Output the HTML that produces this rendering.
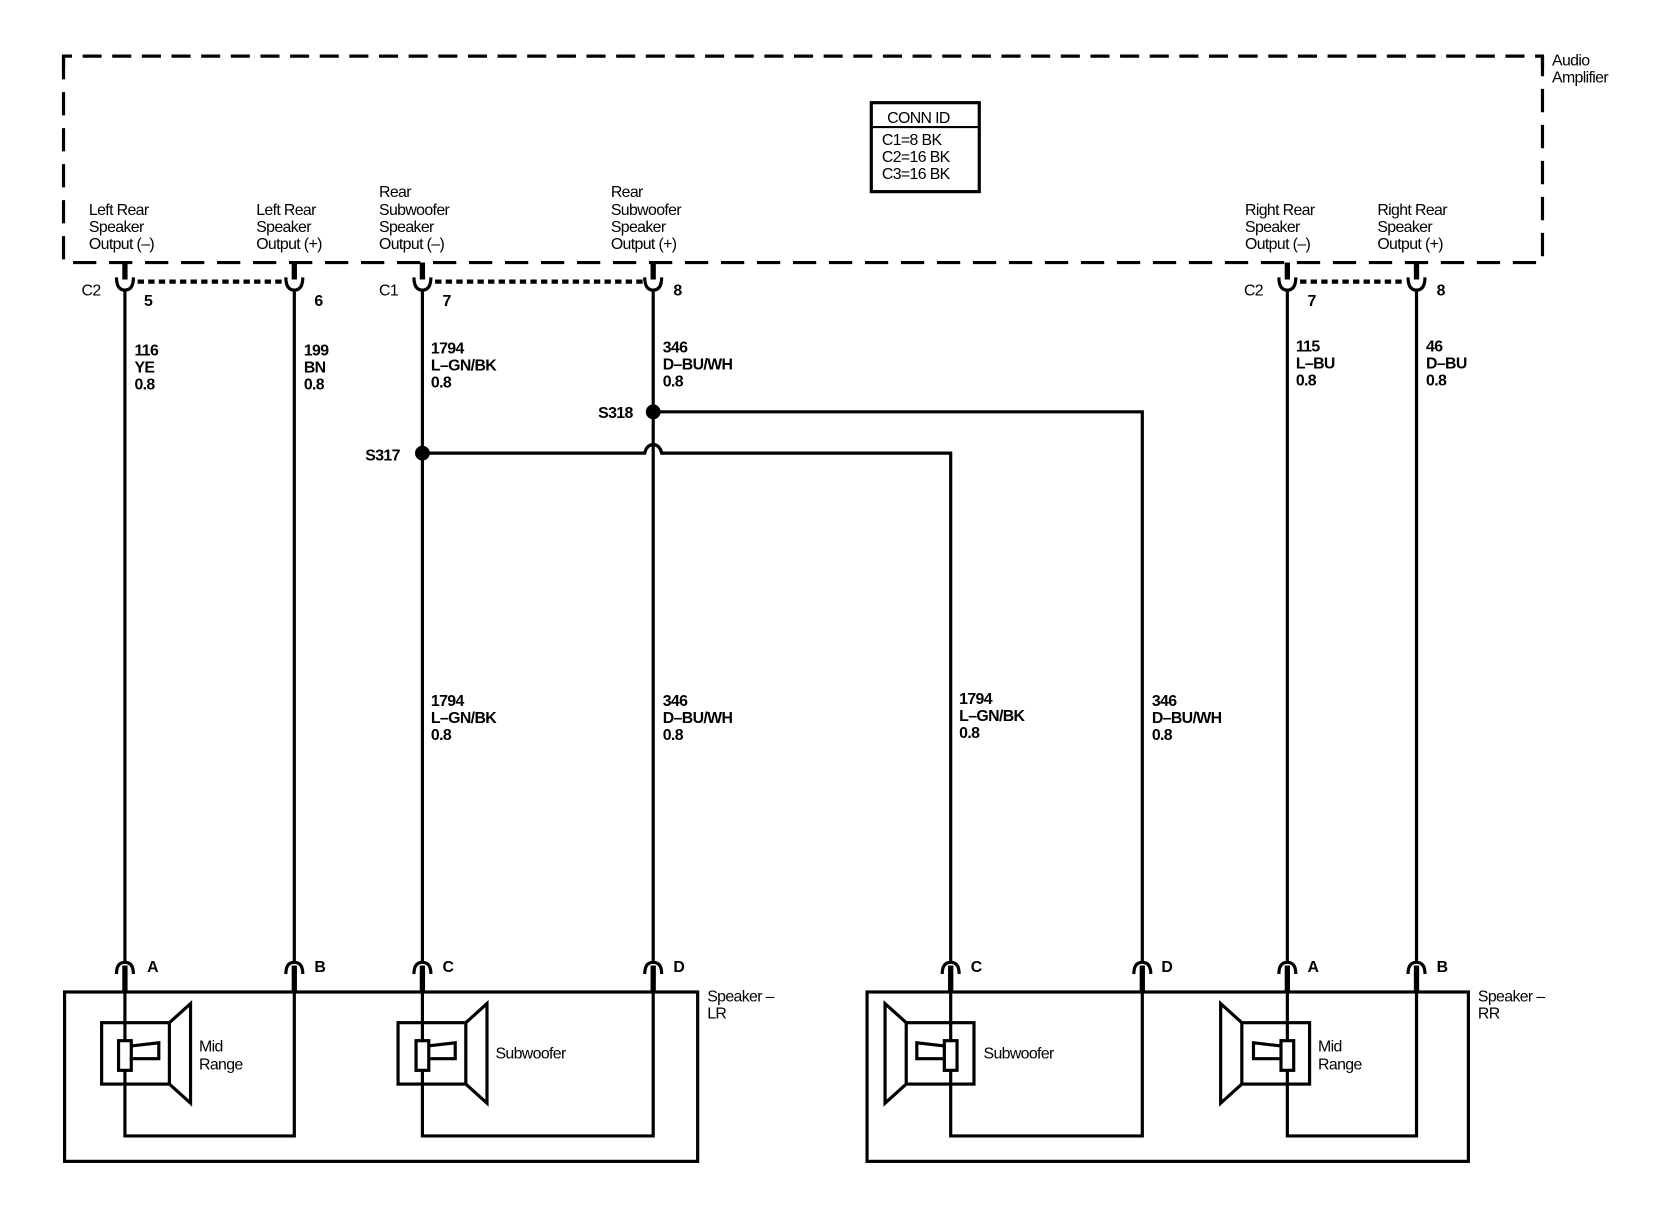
<!DOCTYPE html>
<html><head><meta charset="utf-8"><style>
html,body{margin:0;padding:0;background:#fff;}
svg{display:block;}
text{font-family:"Liberation Sans",sans-serif;font-size:15px;fill:#000;letter-spacing:-0.6px;}
.b{font-weight:bold;}
</style></head><body>
<svg width="1660" height="1216" viewBox="0 0 1568 1148.6" xmlns="http://www.w3.org/2000/svg">
<g fill="none" stroke="#000">
<!-- dashed amplifier box -->
<path d="M60,63 V53 H1457 V63" stroke-width="3" stroke-dasharray="18,10"/>
<path d="M60,53 V248 H1457 V53" stroke-width="3" stroke-dasharray="22,12"/>
<!-- conn id -->
<rect x="823" y="97" width="102" height="84" stroke-width="3"/>
<line x1="823" y1="120" x2="925" y2="120" stroke-width="2"/>
</g>
<text x="838" y="116">CONN ID</text>
<text x="833" y="137">C1=8 BK</text>
<text x="833" y="153">C2=16 BK</text>
<text x="833" y="169">C3=16 BK</text>
<text x="1466" y="62">Audio</text>
<text x="1466" y="78">Amplifier</text>

<text x="84" y="203">Left Rear</text><text x="84" y="219">Speaker</text><text x="84" y="235">Output (–)</text>
<text x="242" y="203">Left Rear</text><text x="242" y="219">Speaker</text><text x="242" y="235">Output (+)</text>
<text x="358" y="186">Rear</text><text x="358" y="203">Subwoofer</text><text x="358" y="219">Speaker</text><text x="358" y="235">Output (–)</text>
<text x="577" y="186">Rear</text><text x="577" y="203">Subwoofer</text><text x="577" y="219">Speaker</text><text x="577" y="235">Output (+)</text>
<text x="1176" y="203">Right Rear</text><text x="1176" y="219">Speaker</text><text x="1176" y="235">Output (–)</text>
<text x="1301" y="203">Right Rear</text><text x="1301" y="219">Speaker</text><text x="1301" y="235">Output (+)</text>

<g fill="none" stroke="#000">
<!-- top connectors -->
<g stroke-width="5">
<line x1="118" y1="248" x2="118" y2="264"/><line x1="278" y1="248" x2="278" y2="264"/>
<line x1="399" y1="248" x2="399" y2="264"/><line x1="617" y1="248" x2="617" y2="264"/>
<line x1="1216" y1="248" x2="1216" y2="264"/><line x1="1338" y1="248" x2="1338" y2="264"/>
</g>
<g stroke-width="3">
<path d="M110,262 Q110,274 118,274 Q126,274 126,262"/>
<path d="M270,262 Q270,274 278,274 Q286,274 286,262"/>
<path d="M391,262 Q391,274 399,274 Q407,274 407,262"/>
<path d="M609,262 Q609,274 617,274 Q625,274 625,262"/>
<path d="M1208,262 Q1208,274 1216,274 Q1224,274 1224,262"/>
<path d="M1330,262 Q1330,274 1338,274 Q1346,274 1346,262"/>
</g>
<g stroke-width="4" stroke-dasharray="6,4">
<line x1="130" y1="266" x2="268" y2="266"/>
<line x1="411" y1="266" x2="607" y2="266"/>
<line x1="1228" y1="266" x2="1328" y2="266"/>
</g>
<!-- wires -->
<g stroke-width="3">
<line x1="118" y1="274" x2="118" y2="909"/>
<line x1="278" y1="274" x2="278" y2="909"/>
<line x1="399" y1="274" x2="399" y2="909"/>
<line x1="617" y1="274" x2="617" y2="909"/>
<line x1="1216" y1="274" x2="1216" y2="909"/>
<line x1="1338" y1="274" x2="1338" y2="909"/>
<path d="M617,389 H1079 V909"/>
<path d="M399,428 H609 Q611,420 617,420 Q623,420 625,428 H898 V909"/>
<!-- bottom connectors -->
<path d="M110,920 Q110,909 118,909 Q126,909 126,920"/>
<path d="M270,920 Q270,909 278,909 Q286,909 286,920"/>
<path d="M391,920 Q391,909 399,909 Q407,909 407,920"/>
<path d="M609,920 Q609,909 617,909 Q625,909 625,920"/>
<path d="M890,920 Q890,909 898,909 Q906,909 906,920"/>
<path d="M1071,920 Q1071,909 1079,909 Q1087,909 1087,920"/>
<path d="M1208,920 Q1208,909 1216,909 Q1224,909 1224,920"/>
<path d="M1330,920 Q1330,909 1338,909 Q1346,909 1346,920"/>
</g>
<g stroke-width="5">
<line x1="118" y1="912" x2="118" y2="936"/><line x1="278" y1="912" x2="278" y2="936"/>
<line x1="399" y1="912" x2="399" y2="936"/><line x1="617" y1="912" x2="617" y2="936"/>
<line x1="898" y1="912" x2="898" y2="936"/><line x1="1079" y1="912" x2="1079" y2="936"/>
<line x1="1216" y1="912" x2="1216" y2="936"/><line x1="1338" y1="912" x2="1338" y2="936"/>
</g>
<!-- speaker boxes -->
<rect x="61" y="937" width="598" height="160" stroke-width="3"/>
<rect x="819" y="937" width="568" height="160" stroke-width="3"/>
<g stroke-width="3">
<path d="M118,936 V1073 H278 V936"/>
<path d="M399,936 V1073 H617 V936"/>
<path d="M898,936 V1073 H1079 V936"/>
<path d="M1216,936 V1073 H1338 V936"/>
<!-- LR mid -->
<rect x="96" y="966" width="64" height="58"/>
<path d="M160,966 L180,948 V1042 L160,1024"/>
<path d="M124,988 L150,985 V1000 H124"/>
<rect x="112" y="983" width="12" height="28" fill="#fff"/>
<!-- LR sub -->
<rect x="376" y="966" width="64" height="58"/>
<path d="M440,966 L460,948 V1042 L440,1024"/>
<path d="M404,988 L430,985 V1000 H404"/>
<rect x="393" y="983" width="12" height="28" fill="#fff"/>
<!-- RR sub -->
<rect x="856" y="966" width="64" height="58"/>
<path d="M856,966 L836,948 V1042 L856,1024"/>
<path d="M892,988 L866,985 V1000 H892"/>
<rect x="892" y="983" width="12" height="28" fill="#fff"/>
<!-- RR mid -->
<rect x="1173" y="966" width="64" height="58"/>
<path d="M1173,966 L1153,948 V1042 L1173,1024"/>
<path d="M1210,988 L1184,985 V1000 H1210"/>
<rect x="1210" y="983" width="12" height="28" fill="#fff"/>
</g>
</g>
<circle cx="617" cy="389" r="7"/>
<circle cx="399" cy="428" r="7"/>

<!-- connector labels -->
<text x="77" y="279">C2</text><text x="136" y="289" class="b">5</text><text x="297" y="289" class="b">6</text>
<text x="358" y="279">C1</text><text x="418" y="289" class="b">7</text><text x="636" y="279" class="b">8</text>
<text x="1175" y="279">C2</text><text x="1235" y="289" class="b">7</text><text x="1357" y="279" class="b">8</text>

<g class="b">
<text class="b" x="127" y="336">116</text><text class="b" x="127" y="352">YE</text><text class="b" x="127" y="368">0.8</text>
<text class="b" x="287" y="336">199</text><text class="b" x="287" y="352">BN</text><text class="b" x="287" y="368">0.8</text>
<text class="b" x="407" y="334">1794</text><text class="b" x="407" y="350">L–GN/BK</text><text class="b" x="407" y="366">0.8</text>
<text class="b" x="626" y="333">346</text><text class="b" x="626" y="349">D–BU/WH</text><text class="b" x="626" y="365">0.8</text>
<text class="b" x="1224" y="332">115</text><text class="b" x="1224" y="348">L–BU</text><text class="b" x="1224" y="364">0.8</text>
<text class="b" x="1347" y="332">46</text><text class="b" x="1347" y="348">D–BU</text><text class="b" x="1347" y="364">0.8</text>
<text class="b" x="565" y="395">S318</text>
<text class="b" x="345" y="435">S317</text>
<text class="b" x="407" y="667">1794</text><text class="b" x="407" y="683">L–GN/BK</text><text class="b" x="407" y="699">0.8</text>
<text class="b" x="626" y="667">346</text><text class="b" x="626" y="683">D–BU/WH</text><text class="b" x="626" y="699">0.8</text>
<text class="b" x="906" y="665">1794</text><text class="b" x="906" y="681">L–GN/BK</text><text class="b" x="906" y="697">0.8</text>
<text class="b" x="1088" y="667">346</text><text class="b" x="1088" y="683">D–BU/WH</text><text class="b" x="1088" y="699">0.8</text>
</g>
<text class="b" x="139" y="918">A</text><text class="b" x="297" y="918">B</text>
<text class="b" x="418" y="918">C</text><text class="b" x="636" y="918">D</text>
<text class="b" x="917" y="918">C</text><text class="b" x="1097" y="918">D</text>
<text class="b" x="1235" y="918">A</text><text class="b" x="1357" y="918">B</text>

<text x="188" y="993">Mid</text><text x="188" y="1010">Range</text>
<text x="468" y="1000">Subwoofer</text>
<text x="929" y="1000">Subwoofer</text>
<text x="1245" y="993">Mid</text><text x="1245" y="1010">Range</text>
<text x="668" y="946">Speaker –</text><text x="668" y="962">LR</text>
<text x="1396" y="946">Speaker –</text><text x="1396" y="962">RR</text>
</svg>
</body></html>
